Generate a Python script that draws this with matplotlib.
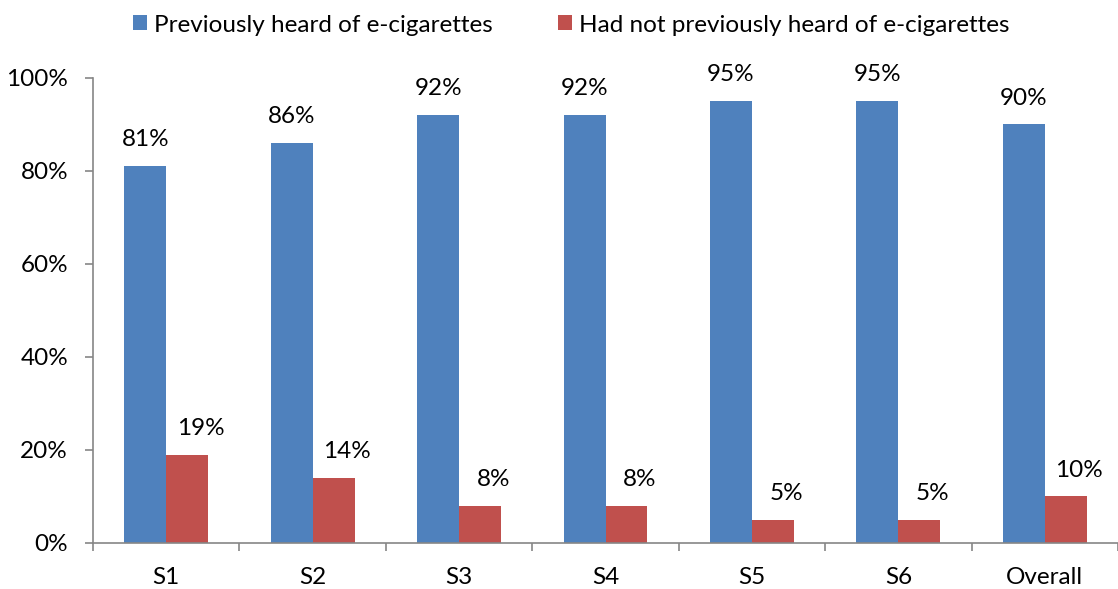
import matplotlib
matplotlib.use("Agg")
import matplotlib.pyplot as plt
import numpy as np
from matplotlib.patches import Patch

plt.rcParams['font.family'] = ['Lato', 'DejaVu Sans']

categories = ["S1", "S2", "S3", "S4", "S5", "S6", "Overall"]
heard = [81, 86, 92, 92, 95, 95, 90]
not_heard = [19, 14, 8, 8, 5, 5, 10]
series_names = ["Previously heard of e-cigarettes",
                "Had not previously heard of e-cigarettes"]
yticks = [0, 20, 40, 60, 80, 100]

BLUE = "#4F81BD"
RED = "#C0504D"
AXIS = "#868686"
FS = 17.5

fig = plt.figure(figsize=(11.18, 5.89), dpi=100)
ax = fig.add_axes([0.0832, 0.0781, 0.9168, 0.7895])

x = np.arange(len(categories))
w = 0.286
b1 = ax.bar(x - w / 2, heard, w, color=BLUE)
b2 = ax.bar(x + w / 2, not_heard, w, color=RED)

for rect, v in zip(b1, heard):
    ax.annotate(f"{v}%", (rect.get_x() + rect.get_width() / 2, v),
                xytext=(0, 11.5), textcoords="offset points",
                ha="center", va="bottom", fontsize=FS)
for rect, v in zip(b2, not_heard):
    ax.annotate(f"{v}%", (rect.get_x() + rect.get_width() / 2, v),
                xytext=(9.5, 11.5), textcoords="offset points",
                ha="center", va="bottom", fontsize=FS)

ax.set_xlim(-0.5, len(categories) - 0.5)
ax.set_ylim(0, 100)
ax.set_yticks(yticks)
ax.set_yticklabels([f"{t}%" for t in yticks], fontsize=FS)
ax.set_xticks(x)
ax.set_xticklabels(categories, fontsize=FS)
ax.set_xticks(np.arange(len(categories) + 1) - 0.5, minor=True)

ax.tick_params(axis="x", which="major", length=0, pad=17)
ax.tick_params(axis="x", which="minor", length=6, color=AXIS, width=1.2)
ax.tick_params(axis="y", length=6, color=AXIS, width=1.2, pad=12)

for s in ["top", "right"]:
    ax.spines[s].set_visible(False)
for s in ["left", "bottom"]:
    ax.spines[s].set_color(AXIS)
    ax.spines[s].set_linewidth(1.2)

handles = [Patch(facecolor=BLUE), Patch(facecolor=RED)]
fig.legend(handles, series_names, loc="center left",
           bbox_to_anchor=(133 / 1118, 1 - 25 / 589),
           ncol=2, frameon=False, fontsize=FS, handlelength=0.57, handleheight=0.57,
           handletextpad=0.29, columnspacing=2.7, borderpad=0, borderaxespad=0)

fig.savefig("out.png", dpi=100)
